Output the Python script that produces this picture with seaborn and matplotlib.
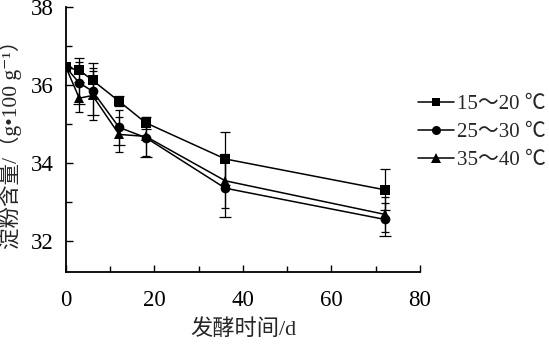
import matplotlib
matplotlib.use("Agg")
import matplotlib.pyplot as plt
from matplotlib.ticker import MultipleLocator
import seaborn as sns
import pandas as pd

# Fermentation time (d)
days = [0, 3, 6, 12, 18, 36, 72]

# Starch content (g/100 g) and standard deviations per temperature range
series_names = ["15～20 ℃", "25～30 ℃", "35～40 ℃"]
starch_15_20 = [36.45, 36.38, 36.12, 35.58, 35.03, 34.10, 33.31]
sd_15_20 = [0.00, 0.30, 0.45, 0.13, 0.15, 0.68, 0.53]
starch_25_30 = [36.45, 36.05, 35.84, 34.91, 34.65, 33.35, 32.55]
sd_25_30 = [0.00, 0.55, 0.60, 0.45, 0.50, 0.74, 0.42]
starch_35_40 = [36.45, 35.66, 35.73, 34.73, 34.68, 33.54, 32.68]
sd_35_40 = [0.00, 0.35, 0.62, 0.45, 0.50, 0.70, 0.45]

markers = ["s", "o", "^"]
marker_sizes = [6.5, 7.5, 8]

sns.set_style("ticks")
plt.rcParams["font.family"] = ["Liberation Serif", "Noto Sans CJK SC", "DejaVu Serif"]

frames = []
for name, vals in zip(series_names, [starch_15_20, starch_25_30, starch_35_40]):
    frames.append(pd.DataFrame({"day": days, "starch": vals, "group": name}))
df = pd.concat(frames, ignore_index=True)

fig = plt.figure(figsize=(5.49, 3.44), dpi=100)
ax = fig.add_axes([0.1202, 0.2093, 0.6448, 0.7704])

# error bars first so the markers sit on top
for vals, sds in zip([starch_15_20, starch_25_30, starch_35_40],
                     [sd_15_20, sd_25_30, sd_35_40]):
    ax.errorbar(days, vals, yerr=sds, fmt="none", ecolor="black",
                elinewidth=0.9, capsize=3, capthick=0.9, zorder=2)

sns.lineplot(data=df, x="day", y="starch", hue="group", style="group",
             markers=dict(zip(series_names, markers)),
             dashes=False, palette=["black"] * 3, linewidth=1.1,
             markersize=7, markeredgewidth=0, ax=ax, zorder=3,
             legend=True)

for line, ms in zip(ax.get_lines()[:3], marker_sizes):
    line.set_markersize(ms)

ax.set_xlim(0, 80)
ax.set_ylim(31.2, 38)
ax.xaxis.set_major_locator(MultipleLocator(20))
ax.xaxis.set_minor_locator(MultipleLocator(10))
ax.yaxis.set_major_locator(MultipleLocator(2))
ax.yaxis.set_minor_locator(MultipleLocator(1))
ax.tick_params(which="both", direction="in", width=1.0, labelsize=16.5,
               colors="black")
ax.tick_params(axis="y", which="major", length=5, pad=9)
ax.tick_params(axis="x", which="major", length=5, pad=13)
ax.tick_params(which="minor", length=4)
for side in ["top", "right"]:
    ax.spines[side].set_visible(False)
for side in ["left", "bottom"]:
    ax.spines[side].set_linewidth(1.3)
    ax.spines[side].set_color("black")

ax.set_xlabel("发酵时间/d", fontsize=16, labelpad=6)
ax.set_ylabel("淀粉含量/（g•100 g⁻¹）", fontsize=15.5, labelpad=6)

handles, labels = ax.get_legend_handles_labels()
for h, ms in zip(handles, marker_sizes):
    h.set_markersize(ms - 1)
ax.legend(handles, labels, loc="upper left", bbox_to_anchor=(0.995, 0.67),
          frameon=False, fontsize=15, handlelength=1.7, handletextpad=0.15,
          labelspacing=0.4, borderaxespad=0, borderpad=0)

fig.savefig("out.png", dpi=100)
